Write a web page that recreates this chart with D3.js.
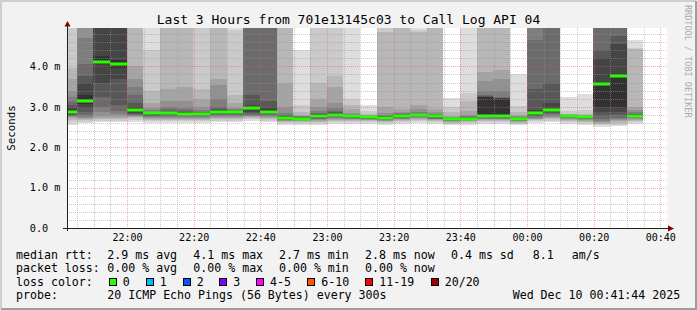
<!DOCTYPE html>
<meta charset="utf-8">
<style>
body { margin: 0; background: #f2f2f2; }
svg { display: block; font-family: "DejaVu Sans Mono", monospace; }
text { white-space: pre; }
.grid line { shape-rendering: crispEdges; stroke-dasharray: 1,1; }
</style>
<body>
<script src="https://d3js.org/d3.v7.min.js"></script>
<script>

// 5 minute steps, first one is cut by the left edge
var barTimes = ["21:40","21:45","21:50","21:55","22:00","22:05","22:10","22:15","22:20","22:25",
                "22:30","22:35","22:40","22:45","22:50","22:55","23:00","23:05","23:10","23:15",
                "23:20","23:25","23:30","23:35","23:40","23:45","23:50","23:55","00:00","00:05",
                "00:10","00:15","00:20","00:25","00:30"];

// median rtt in ms (green line)
var medians = [2.88,3.15,4.12,4.05,2.92,2.84,2.84,2.82,2.82,2.87,
               2.88,2.96,2.88,2.73,2.71,2.78,2.80,2.77,2.74,2.72,
               2.77,2.80,2.76,2.70,2.71,2.78,2.76,2.70,2.85,2.91,
               2.78,2.74,3.57,3.75,2.78];

// the 20 sorted pings of every step, ms (smoke)
var pings = [
  [2.56,2.63,2.68,2.72,2.74,2.76,2.78,2.80,2.82,2.86,2.92,2.98,3.05,3.12,3.25,3.40,3.70,3.95,5.2,5.6],
  [2.60,2.63,2.67,2.70,2.72,2.75,2.80,2.88,2.98,3.08,3.30,3.60,3.75,4.05,4.70,5.1,5.5,6.0,6.5,7.0],
  [2.62,2.66,2.70,2.73,2.78,2.87,3.00,3.25,3.60,4.05,4.25,5.2,5.6,6.0,6.5,7.0,7.5,8.0,8.5,9.0],
  [2.62,2.66,2.70,2.73,2.77,2.82,2.90,3.05,3.70,3.95,4.15,5.2,5.6,6.0,6.5,7.0,7.5,8.0,8.5,9.0],
  [2.63,2.68,2.72,2.74,2.76,2.78,2.80,2.82,2.85,2.90,2.96,3.00,3.10,3.30,3.50,3.70,4.00,5.1,5.5,6.0],
  [2.60,2.65,2.68,2.70,2.72,2.74,2.76,2.78,2.80,2.82,2.84,2.85,2.86,2.88,2.92,2.98,3.10,3.40,4.40,5.5],
  [2.60,2.65,2.68,2.71,2.73,2.75,2.77,2.79,2.81,2.83,2.86,2.88,2.90,2.95,3.00,3.15,3.45,5.05,5.2,5.5],
  [2.60,2.65,2.68,2.71,2.73,2.75,2.77,2.79,2.80,2.82,2.84,2.86,2.88,2.92,2.98,3.15,3.50,5.05,5.2,5.5],
  [2.60,2.64,2.67,2.70,2.72,2.74,2.76,2.78,2.79,2.81,2.84,2.85,2.86,2.88,2.92,3.00,3.20,3.45,5.1,5.5],
  [2.62,2.66,2.69,2.72,2.74,2.76,2.79,2.81,2.84,2.87,2.90,2.92,2.95,3.00,3.20,3.55,3.70,5.05,5.2,5.5],
  [2.62,2.66,2.69,2.72,2.75,2.77,2.80,2.82,2.84,2.86,2.88,2.89,2.90,2.92,2.94,2.98,3.10,3.30,4.9,5.5],
  [2.64,2.69,2.72,2.74,2.76,2.78,2.80,2.85,2.88,2.95,3.00,3.05,3.30,6.0,6.5,7.0,7.5,8.0,8.5,9.0],
  [2.62,2.66,2.70,2.73,2.75,2.78,2.80,2.82,2.85,2.88,2.93,2.96,3.15,6.0,6.5,7.0,7.5,8.0,8.5,9.0],
  [2.56,2.60,2.63,2.65,2.66,2.67,2.68,2.69,2.70,2.72,2.75,2.76,2.77,2.79,2.85,3.00,3.60,5.05,5.2,5.5],
  [2.56,2.60,2.63,2.65,2.66,2.67,2.68,2.69,2.70,2.71,2.72,2.73,2.74,2.75,2.76,2.78,2.80,2.87,3.05,4.40],
  [2.56,2.60,2.63,2.65,2.67,2.69,2.71,2.73,2.75,2.77,2.80,2.82,2.83,2.85,2.90,3.00,3.20,3.60,5.1,5.5],
  [2.58,2.62,2.65,2.68,2.70,2.72,2.74,2.76,2.78,2.80,2.83,2.85,2.87,2.90,2.97,3.10,3.50,3.75,5.1,5.5],
  [2.58,2.62,2.65,2.68,2.70,2.71,2.72,2.73,2.74,2.75,2.77,2.78,2.79,2.80,2.82,2.85,2.95,3.05,3.20,5.5],
  [2.58,2.62,2.65,2.67,2.68,2.69,2.70,2.71,2.72,2.73,2.735,2.74,2.745,2.75,2.76,2.77,2.79,2.82,2.90,3.05],
  [2.56,2.60,2.63,2.65,2.66,2.67,2.68,2.69,2.70,2.72,2.75,2.76,2.77,2.78,2.80,2.85,3.00,4.85,5.2,5.5],
  [2.58,2.62,2.65,2.68,2.70,2.71,2.72,2.73,2.75,2.76,2.79,2.80,2.81,2.82,2.84,2.88,2.95,5.05,5.2,5.5],
  [2.60,2.64,2.67,2.70,2.72,2.74,2.75,2.76,2.78,2.79,2.81,2.82,2.83,2.84,2.86,2.95,3.05,4.85,4.9,5.5],
  [2.58,2.62,2.65,2.67,2.69,2.70,2.71,2.72,2.74,2.75,2.77,2.79,2.80,2.81,2.83,2.87,2.95,5.05,5.2,5.5],
  [2.55,2.58,2.61,2.63,2.64,2.65,2.66,2.67,2.68,2.69,2.705,2.71,2.72,2.73,2.74,2.75,2.78,2.87,3.00,3.22],
  [2.56,2.60,2.63,2.65,2.66,2.67,2.68,2.69,2.70,2.70,2.72,2.73,2.74,2.75,2.77,2.80,2.90,3.15,3.35,5.5],
  [2.58,2.62,2.65,2.67,2.69,2.70,2.72,2.74,2.76,2.80,3.23,3.25,3.27,3.30,3.40,3.65,3.85,5.1,5.3,5.5],
  [2.58,2.62,2.65,2.67,2.69,2.70,2.72,2.73,2.75,2.80,3.20,3.21,3.22,3.25,3.40,3.70,3.90,5.1,5.3,5.5],
  [2.55,2.58,2.61,2.63,2.64,2.65,2.66,2.67,2.68,2.68,2.70,2.71,2.72,2.73,2.74,2.76,2.80,2.87,3.03,3.80],
  [2.60,2.64,2.67,2.69,2.71,2.73,2.76,2.78,2.80,2.84,2.88,2.92,3.45,4.65,6.0,6.5,7.0,7.5,8.0,8.5],
  [2.62,2.66,2.69,2.72,2.75,2.78,2.81,2.84,2.87,2.90,2.95,3.10,3.60,6.0,6.5,7.0,7.5,8.0,8.5,9.0],
  [2.58,2.62,2.65,2.68,2.70,2.72,2.73,2.74,2.75,2.76,2.78,2.785,2.79,2.795,2.80,2.805,2.81,2.82,2.90,3.24],
  [2.56,2.60,2.63,2.66,2.68,2.69,2.70,2.71,2.72,2.73,2.75,2.755,2.76,2.765,2.77,2.78,2.79,2.82,2.92,3.32],
  [2.50,2.55,2.57,2.59,2.62,2.66,2.70,2.78,2.88,3.00,3.60,4.20,4.40,6.0,6.5,7.0,7.5,8.0,8.5,9.0],
  [2.52,2.56,2.60,2.64,2.67,2.70,2.72,2.80,2.87,3.00,3.80,4.55,4.75,6.0,6.5,7.0,7.5,8.0,8.5,9.0],
  [2.58,2.62,2.65,2.68,2.70,2.72,2.74,2.75,2.76,2.77,2.80,2.81,2.82,2.83,2.86,2.92,3.00,4.44,4.45,4.65]
];

var yTicks = [0, 1, 2, 3, 4];

var lossLabels = ["0","1","2","3","4-5","6-10","11-19","20/20"];
var lossColors = ["#26ff00","#00b8ff","#0059ff","#7e00ff","#ff00ff","#ff5500","#ff0000","#a10000"];

var title = "Last 3 Hours from 701e13145c03 to Call Log API 04";
var rttLegend = ["2.9 ms avg","4.1 ms max","2.7 ms min","2.8 ms now","0.4 ms sd","8.1","am/s"];
var lossLegend = ["0.00 % avg","0.00 % max","0.00 % min","0.00 % now"];
var probeText = "20 ICMP Echo Pings (56 Bytes) every 300s";
var stamp = "Wed Dec 10 00:41:44 2025";

// ---------------------------------------------------------------
var W = 697, H = 310;
var pLeft = 67, pRight = 667, pTop = 28, pBottom = 228;

function toDate(s) {
  var p = s.split(":");
  var h = +p[0];
  return new Date(2025, 11, h < 12 ? 10 : 9, h, +p[1]);
}

var x = d3.scaleTime()
    .domain([new Date(2025, 11, 9, 21, 42), new Date(2025, 11, 10, 0, 42)])
    .range([pLeft, pRight]);
var y = d3.scaleLinear().domain([0, 4.95]).range([pBottom, pTop]);

var svg = d3.select("body").append("svg")
    .attr("width", W).attr("height", H);

// background + shade frame
svg.append("rect").attr("width", W).attr("height", H).attr("fill", "#f2f2f2");
svg.append("path").attr("d", "M1,309V1H696").attr("fill", "none")
    .attr("stroke", "#cfcfcf").attr("stroke-width", 2);
svg.append("path").attr("d", "M1,309H696V1").attr("fill", "none")
    .attr("stroke", "#9e9e9e").attr("stroke-width", 2);

// canvas
svg.append("rect").attr("x", pLeft).attr("y", pTop)
    .attr("width", pRight - pLeft).attr("height", pBottom - pTop).attr("fill", "#fff");

svg.append("clipPath").attr("id", "plot")
  .append("rect").attr("x", pLeft).attr("y", pTop)
    .attr("width", pRight - pLeft).attr("height", pBottom - pTop);

var bars = barTimes.map(function(t, i) {
  var d = toDate(t);
  return {
    x0: Math.floor(x(d) + 1e-6),
    x1: Math.floor(x(d3.timeMinute.offset(d, 5)) + 1e-6),
    med: medians[i],
    p: pings[i]
  };
});

var plot = svg.append("g").attr("clip-path", "url(#plot)");

// smoke: outer pair light, inner pairs darker on top
bars.forEach(function(b) {
  var pairs = d3.range(10).map(function(k) {
    var c = Math.floor(190 / 10 * (10 - (k + 1))) + 50;
    return { lo: b.p[k], hi: b.p[19 - k], c: "rgb(" + c + "," + c + "," + c + ")" };
  });
  plot.selectAll(null).data(pairs).enter().append("rect")
      .attr("x", b.x0).attr("width", b.x1 - b.x0)
      .attr("y", function(d) { return Math.round(y(d.hi)); })
      .attr("height", function(d) { return Math.max(0, Math.round(y(d.lo)) - Math.round(y(d.hi))); })
      .attr("fill", function(d) { return d.c; })
      .attr("shape-rendering", "crispEdges");
});

// median line
plot.selectAll(".med").data(bars).enter().append("rect")
    .attr("class", "med")
    .attr("x", function(d) { return d.x0; })
    .attr("width", function(d) { return d.x1 - d.x0; })
    .attr("y", function(d) { return Math.round(y(d.med)) - 1.5; })
    .attr("height", 3)
    .attr("fill", "#26ff00");

// grid on top (rrdtool style)
var grid = svg.append("g").attr("class", "grid");
var minorCol = "rgba(150,150,150,0.5)", majorCol = "rgba(230,90,90,0.5)";
var minutes = d3.timeMinute.every(5).range(x.domain()[0], x.domain()[1]);
minutes.forEach(function(t) {
  var major = t.getMinutes() % 20 === 0;
  var xx = Math.round(x(t)) + 0.5;
  grid.append("line")
      .attr("x1", xx).attr("x2", xx).attr("y1", pTop).attr("y2", pBottom)
      .attr("stroke", major ? majorCol : minorCol);
});
d3.range(1, 25).forEach(function(k) {
  var yy = Math.round(y(k / 5)) + 0.5;
  grid.append("line")
      .attr("x1", pLeft).attr("x2", pRight).attr("y1", yy).attr("y2", yy)
      .attr("stroke", k % 5 === 0 ? majorCol : minorCol);
});

// axes
svg.append("line").attr("x1", 63).attr("x2", 670).attr("y1", pBottom + 0.5).attr("y2", pBottom + 0.5)
    .attr("stroke", "#212121").attr("shape-rendering", "crispEdges");
svg.append("line").attr("x1", pLeft + 0.5).attr("x2", pLeft + 0.5).attr("y1", 231).attr("y2", 25)
    .attr("stroke", "#212121").attr("shape-rendering", "crispEdges");
svg.append("path").attr("d", "M668,225.5L674,228.5L668,231.5Z").attr("fill", "#800000");
svg.append("path").attr("d", "M64.5,26.5L67.5,21L70.5,26.5Z").attr("fill", "#800000");

var xAxis = d3.axisBottom(x)
    .tickValues(minutes.filter(function(t) { return t.getMinutes() % 20 === 0; }))
    .tickFormat(d3.timeFormat("%H:%M"))
    .tickSize(0).tickPadding(5.5);
var gx = svg.append("g").attr("transform", "translate(0," + pBottom + ")").call(xAxis);
gx.select(".domain").remove();
gx.selectAll("text").attr("font-family", "DejaVu Sans Mono").attr("font-size", "10px").attr("fill", "#000");

var yAxis = d3.axisLeft(y)
    .tickValues(yTicks)
    .tickFormat(function(v) { return v.toFixed(1) + (v ? " m" : "  "); })
    .tickSize(0).tickPadding(6.5);
var gy = svg.append("g").attr("transform", "translate(" + pLeft + ",0)").call(yAxis);
gy.select(".domain").remove();
gy.selectAll("text").attr("font-family", "DejaVu Sans Mono").attr("font-size", "10.2px").attr("fill", "#000");

// titles
svg.append("text").attr("x", 348.5).attr("y", 24).attr("text-anchor", "middle")
    .attr("font-size", "13px").text(title);
svg.append("text").attr("transform", "translate(14.5,128) rotate(-90)")
    .attr("text-anchor", "middle").attr("font-size", "10.8px").text("Seconds");
svg.append("text").attr("transform", "translate(685,5) rotate(90)")
    .attr("font-size", "8.5px").attr("fill", "#aaaaaa").text("RRDTOOL / TOBI OETIKER");

// legend
var fs = "11.6px";
function txt(xx, yy, s) {
  svg.append("text").attr("x", xx).attr("y", yy).attr("font-size", fs).text(s);
}
var rttX = [107.3, 193.3, 279, 365, 451, 532.7, 571.7];
txt(16, 258.5, "median rtt:");
rttLegend.forEach(function(s, i) { txt(rttX[i], 258.5, s); });
txt(16, 272, "packet loss:");
lossLegend.forEach(function(s, i) { txt(rttX[i], 272, s); });
txt(16, 285.5, "loss color:");
var boxX = [108.7, 145.7, 182.7, 219.3, 256, 307.3, 365.3, 430.7];
lossLabels.forEach(function(s, i) {
  svg.append("rect").attr("x", Math.round(boxX[i]) + 0.5).attr("y", 278.5)
      .attr("width", 7).attr("height", 7)
      .attr("fill", lossColors[i]).attr("stroke", "#000");
  txt(boxX[i] + 14, 285.5, s);
});
txt(16, 299, "probe:");
txt(107.3, 299, probeText);
txt(512.7, 299, stamp);

</script>
</body>
